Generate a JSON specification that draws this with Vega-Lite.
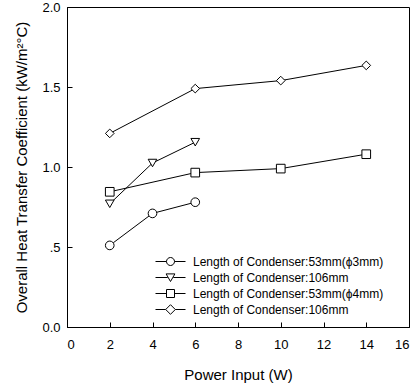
{
  "$schema": "https://vega.github.io/schema/vega-lite/v6.json",
  "width": 342,
  "height": 320,
  "autosize": "none",
  "padding": {"left": 67, "top": 7, "right": 11, "bottom": 58},
  "background": "white",
  "config": {
    "view": {"stroke": "black", "strokeWidth": 1},
    "font": "Liberation Sans",
    "axis": {"grid": false, "domainColor": "black", "tickColor": "black", "labelColor": "black", "titleColor": "black", "labelFont": "Liberation Sans", "titleFont": "Liberation Sans", "labelFontSize": 13, "titleFontSize": 15, "titleFontWeight": "normal", "tickSize": -5, "labelPadding": 12}
  },
  "data": {"values": [
    {"p": 2, "h": 0.51, "s": "A"},
    {"p": 4, "h": 0.71, "s": "A"},
    {"p": 6, "h": 0.78, "s": "A"},
    {"p": 2, "h": 0.77, "s": "B"},
    {"p": 4, "h": 1.025, "s": "B"},
    {"p": 6, "h": 1.155, "s": "B"},
    {"p": 2, "h": 0.845, "s": "C"},
    {"p": 6, "h": 0.965, "s": "C"},
    {"p": 10, "h": 0.99, "s": "C"},
    {"p": 14, "h": 1.08, "s": "C"},
    {"p": 2, "h": 1.21, "s": "D"},
    {"p": 6, "h": 1.49, "s": "D"},
    {"p": 10, "h": 1.54, "s": "D"},
    {"p": 14, "h": 1.635, "s": "D"}
  ]},
  "encoding": {
    "x": {"field": "p", "type": "quantitative", "scale": {"domain": [0, 16], "nice": false}, "axis": {"title": "Power Input (W)", "values": [0,2,4,6,8,10,12,14,16], "labelPadding": 16, "titlePadding": 16}},
    "y": {"field": "h", "type": "quantitative", "scale": {"domain": [0, 2], "nice": false}, "axis": {"title": "Overall Heat Transfer Coefficient (kW/m²°C)", "values": [0, 0.5, 1, 1.5, 2], "labelExpr": "datum.value == 0.5 ? '.5' : format(datum.value, '.1f')", "titlePadding": 12}}
  },
  "layer": [
    {"mark": {"type": "line", "color": "black", "strokeWidth": 1}, "encoding": {"detail": {"field": "s"}}},
    {"mark": {"type": "point", "filled": true, "fill": "white", "stroke": "black", "strokeWidth": 1, "size": 75, "opacity": 1},
     "encoding": {"shape": {"field": "s", "type": "nominal", "scale": {"domain": ["A","B","C","D"], "range": ["circle", "triangle-down", "square", "diamond"]}, "legend": null}}},
    {"mark": {"type": "point", "filled": false, "stroke": "black", "opacity": 0, "size": 256},
     "encoding": {"shape": {"field": "s", "type": "nominal", "scale": {"domain": ["A","B","C","D"], "range": [
       "M-1.875,0H-0.5M0.5,0H1.875M-0.5,0A0.5,0.5 0 1,0 0.5,0A0.5,0.5 0 1,0 -0.5,0Z",
       "M-1.875,0H-0.35M0.35,0H1.875M-0.55,-0.45L0.55,-0.45L0,0.5Z",
       "M-1.875,0H-0.5M0.5,0H1.875M-0.5,-0.5H0.5V0.5H-0.5Z",
       "M-1.875,0H-0.6M0.6,0H1.875M0,-0.6L0.6,0L0,0.6L-0.6,0Z"]},
       "legend": {"title": null, "orient": "none", "legendX": 95, "legendY": 246, "symbolOpacity": 1, "symbolStrokeColor": "black", "symbolStrokeWidth": 1, "symbolFillColor": "white", "symbolSize": 256, "labelFontSize": 12, "labelFont": "Liberation Sans", "labelColor": "black", "labelOffset": 14, "rowPadding": 1, "labelLimit": 300,
         "labelExpr": "datum.value == 'A' ? 'Length of Condenser:53mm(ϕ3mm)' : datum.value == 'C' ? 'Length of Condenser:53mm(ϕ4mm)' : 'Length of Condenser:106mm'"}}}}
  ],
  "resolve": {"scale": {"shape": "independent"}, "legend": {"shape": "independent"}}
}
